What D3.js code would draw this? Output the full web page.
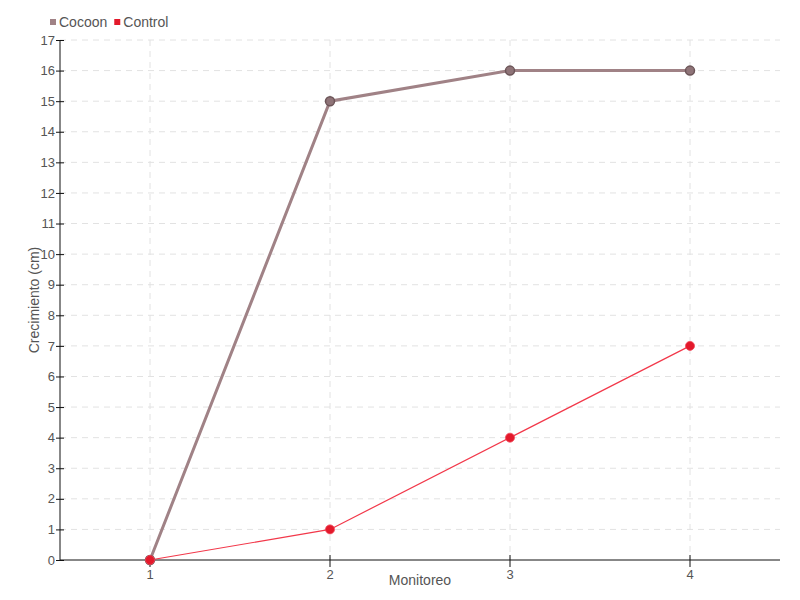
<!DOCTYPE html>
<html><head><meta charset="utf-8">
<script src="https://cdn.jsdelivr.net/npm/d3@7"></script>
<style>
body{margin:0;background:#fff;}
text{font-family:"Liberation Sans",Arial,sans-serif;fill:#555;}
</style></head>
<body><svg id="c" width="800" height="600"></svg>
<script>
const categories = ["1","2","3","4"];
const cocoon = [0, 15, 16, 16];
const control = [0, 1, 4, 7];
const seriesNames = ["Cocoon","Control"];
const yTicks = d3.range(0, 18);

const svg = d3.select("#c");
const m = {l:60, r:20, t:40, b:40};
const W = 800, H = 600;
const x = d3.scaleBand().domain(categories).range([m.l, W-m.r]);
const y = d3.scaleLinear().domain([0,17]).range([H-m.b, m.t]);
const cx = d => x(d) + x.bandwidth()/2;

// grid
const g = svg.append("g");
g.selectAll(".hg").data(yTicks.filter(d=>d>0)).enter().append("line")
  .attr("x1", m.l).attr("x2", W-m.r).attr("y1", d=>y(d)).attr("y2", d=>y(d))
  .attr("stroke","#e2e2e2").attr("stroke-dasharray","6,5");
g.selectAll(".vg").data(categories).enter().append("line")
  .attr("x1", d=>cx(d)).attr("x2", d=>cx(d)).attr("y1", m.t).attr("y2", H-m.b)
  .attr("stroke","#e2e2e2").attr("stroke-dasharray","6,5");

// axes
const ya = svg.append("g").attr("transform",`translate(${m.l},0)`)
  .call(d3.axisLeft(y).tickValues(yTicks).tickSize(4).tickFormat(d3.format("d")));
ya.select(".domain").attr("stroke","#111").attr("d",`M0,${m.t}V${H-m.b}`);
ya.selectAll(".tick line").attr("x1",4).attr("x2",-4).attr("stroke","#111");
ya.selectAll(".tick text").attr("x",-5).style("font-size","13px").attr("fill","#555");

const xa = svg.append("g").attr("transform",`translate(0,${H-m.b})`)
  .call(d3.axisBottom(x).tickSize(6));
xa.select(".domain").attr("stroke","#111").attr("d",`M${m.l},0H${W-m.r}`);
xa.selectAll(".tick line").attr("y1",-5).attr("y2",7).attr("stroke","#111");
xa.selectAll(".tick text").attr("y",10).style("font-size","13px").attr("fill","#555");

svg.append("text").attr("transform",`translate(35,${(m.t+H-m.b)/2}) rotate(-90)`)
  .attr("text-anchor","middle").attr("dominant-baseline","middle").style("font-size","14px").text("Crecimiento (cm)");
svg.append("text").attr("x",(m.l+W-m.r)/2).attr("y",585)
  .attr("text-anchor","middle").style("font-size","14px").text("Monitoreo");

const line = d3.line().x((d,i)=>cx(categories[i])).y(d=>y(d));
svg.append("path").datum(cocoon).attr("d",line).attr("fill","none")
  .attr("stroke","#a08286").attr("stroke-width",3);
svg.append("path").datum(control).attr("d",line).attr("fill","none")
  .attr("stroke","#f2384a").attr("stroke-width",1.2);
svg.selectAll(".pc").data(cocoon).enter().append("circle")
  .attr("cx",(d,i)=>cx(categories[i])).attr("cy",d=>y(d)).attr("r",4.5)
  .attr("fill","#8f7478").attr("stroke","#6c5558").attr("stroke-width",1.5);
svg.selectAll(".pr").data(control).enter().append("circle")
  .attr("cx",(d,i)=>cx(categories[i])).attr("cy",d=>y(d)).attr("r",4.5)
  .attr("fill","#e3192b").attr("stroke","#f04455").attr("stroke-width",0.8);

// legend
const colors = ["#a08286","#e3192b"];
const lg = svg.append("g");
let lx = 50;
seriesNames.forEach((n,i)=>{
  lg.append("rect").attr("x",lx).attr("y",19).attr("width",6).attr("height",6).attr("fill",colors[i]);
  const t = lg.append("text").attr("x",lx+9).attr("y",27).style("font-size","14px").text(n);
  lx += 9 + t.node().getComputedTextLength() + 7;
});
</script></body></html>
